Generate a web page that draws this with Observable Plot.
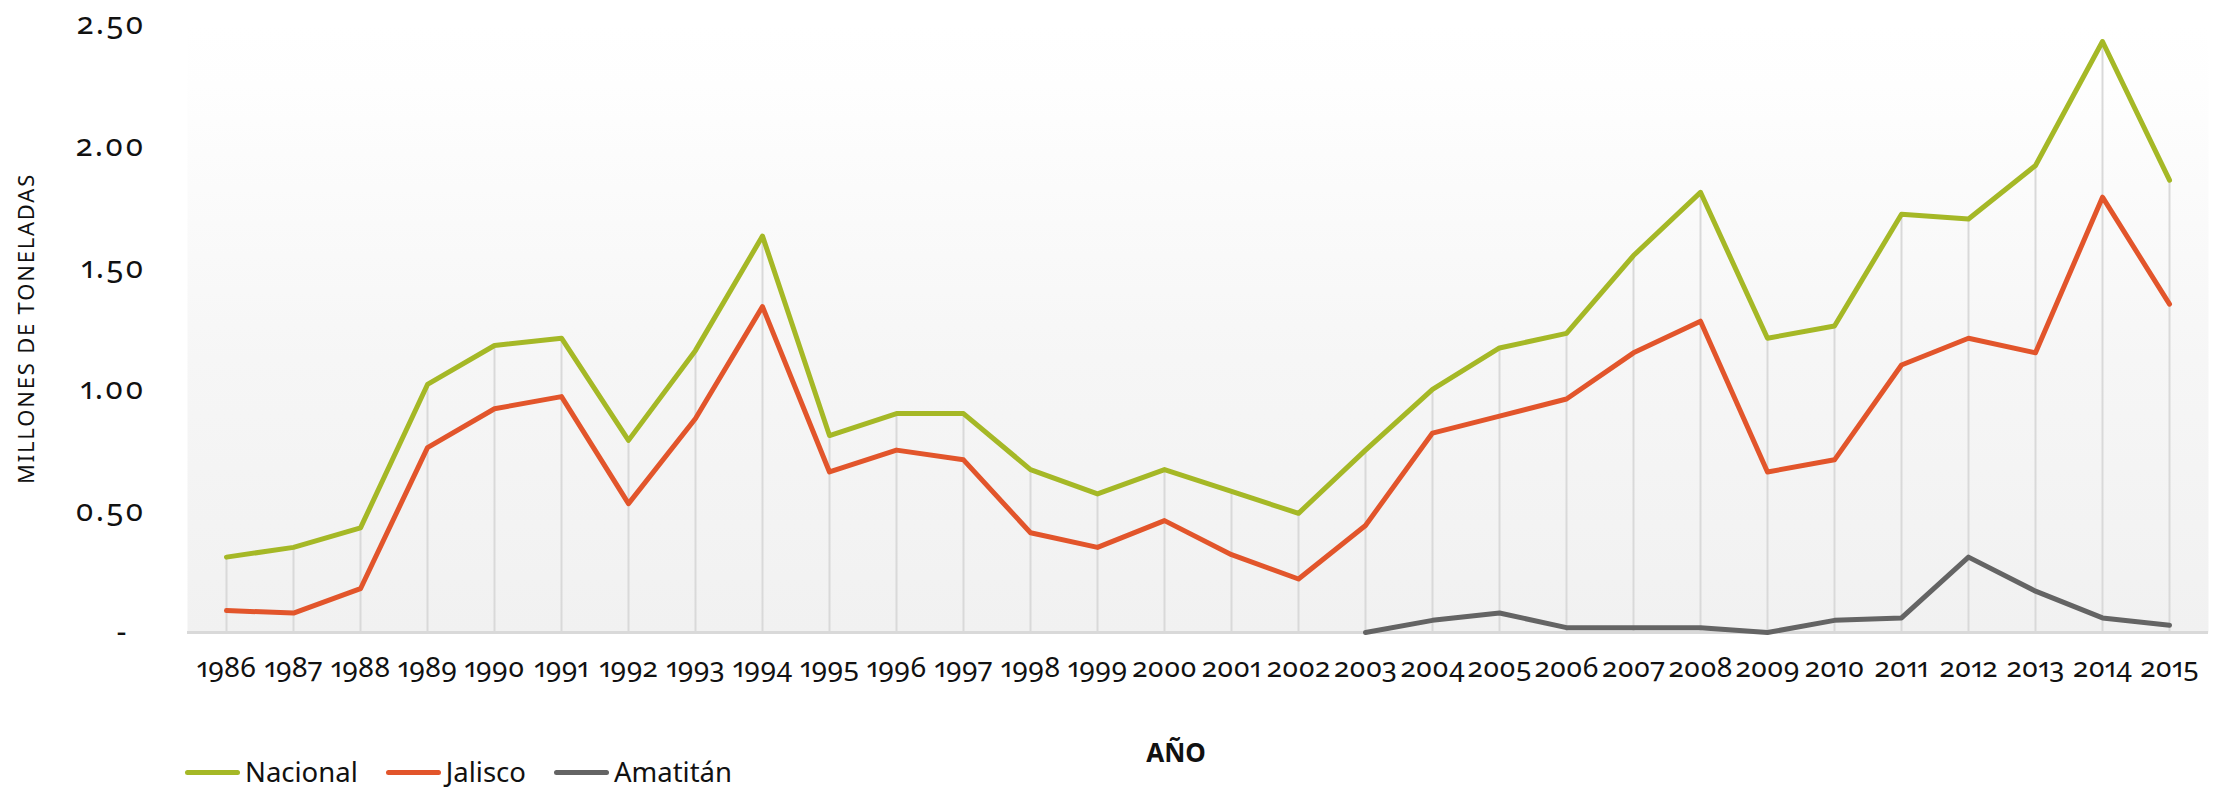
<!DOCTYPE html>
<html>
<head>
<meta charset="utf-8">
<script src="https://cdn.jsdelivr.net/npm/d3@7"></script>
<script src="https://cdn.jsdelivr.net/npm/@observablehq/plot@0.6"></script>
<style>
  html, body { margin: 0; padding: 0; background: #ffffff; }
  #wrap { position: relative; width: 2231px; height: 792px; overflow: hidden; font-family: "Noto Sans", sans-serif; }
  #wrap svg text { font-variant-numeric: oldstyle-nums proportional-nums; font-feature-settings: "onum" 1, "pnum" 1; }
  #legend { position: absolute; left: 185px; top: 755px; height: 34px; line-height: 34px; display: flex; align-items: center; color: #111; font-size: 27.5px; font-family: "Noto Sans", sans-serif; }
  #legend .item { display: flex; align-items: center; margin-right: 28px; height: 34px; }
  #legend .sw { width: 55px; height: 5px; border-radius: 3px; margin-right: 5px; }
</style>
</head>
<body>
<div id="wrap"></div>
<script>
const years = [1986,1987,1988,1989,1990,1991,1992,1993,1994,1995,1996,1997,1998,1999,2000,2001,2002,2003,2004,2005,2006,2007,2008,2009,2010,2011,2012,2013,2014,2015];
const nacional = [0.31,0.35,0.43,1.02,1.18,1.21,0.79,1.16,1.63,0.81,0.90,0.90,0.67,0.57,0.67,0.58,0.49,0.75,1.00,1.17,1.23,1.55,1.81,1.21,1.26,1.72,1.70,1.92,2.43,1.86];
const jalisco  = [0.09,0.08,0.18,0.76,0.92,0.97,0.53,0.88,1.34,0.66,0.75,0.71,0.41,0.35,0.46,0.32,0.22,0.44,0.82,0.89,0.96,1.15,1.28,0.66,0.71,1.10,1.21,1.15,1.79,1.35];
const amatitan = [null,null,null,null,null,null,null,null,null,null,null,null,null,null,null,null,null,0.00,0.05,0.08,0.02,0.02,0.02,0.00,0.05,0.06,0.31,0.17,0.06,0.03];
const seriesNames = ["Nacional","Jalisco","Amatitán"];
const seriesColors = ["#A5B826","#E2552B","#646464"];
const yTicks = [0,0.5,1,1.5,2,2.5];
const yTitle = "MILLONES DE TONELADAS";
const xTitle = "AÑO";

const seriesValues = [nacional, jalisco, amatitan];
const rows = years.map((year, i) => ({year, nacional: nacional[i]}));
const long = [];
seriesNames.forEach((s, k) => years.forEach((year, i) => long.push({year, series: s, value: seriesValues[k][i]})));

const chart = Plot.plot({
  width: 2231,
  height: 792,
  marginLeft: 187,
  marginRight: 23,
  marginTop: 24,
  marginBottom: 160,
  style: {fontFamily: "'Noto Sans', sans-serif", fontSize: "28px", color: "#111", background: "transparent", overflow: "visible"},
  x: {type: "point", domain: years, padding: 0.5, label: null},
  y: {domain: [0, 2.5], label: null},
  color: {domain: seriesNames, range: seriesColors},
  marks: [
    Plot.frame({fill: "url(#bgGrad)", stroke: "none"}),
    Plot.ruleX(rows, {x: "year", y1: 0, y2: "nacional", stroke: "#d9d9d9", strokeWidth: 2}),
    Plot.ruleY([0], {stroke: "#d9d9d9", strokeWidth: 3}),
    Plot.axisX({tickSize: 0, tickPadding: 25, tickFormat: d => String(d), label: null, fontSize: 28}),
    Plot.axisY(yTicks.filter(d => d > 0), {tickSize: 0, tickPadding: 42, tickFormat: d => d.toFixed(2), label: null, fontSize: 31}),
    Plot.axisY([0], {tickSize: 0, tickPadding: 44, tickFormat: () => "-", dx: -17, label: null, fontSize: 31}),
    Plot.line(long, {x: "year", y: "value", z: "series", stroke: "series", strokeWidth: 5, strokeLinejoin: "round", strokeLinecap: "round"}),
    Plot.text([yTitle], {frameAnchor: "left", dx: -161, rotate: -90, textAnchor: "middle", lineAnchor: "middle", fontSize: 22, fill: "#111"}),
    Plot.text([xTitle], {frameAnchor: "bottom", dx: -22, dy: 121, textAnchor: "middle", lineAnchor: "middle", fontSize: 26, fontWeight: "bold", fill: "#111"})
  ]
});

const NS = "http://www.w3.org/2000/svg";
const defs = document.createElementNS(NS, "defs");
const grad = document.createElementNS(NS, "linearGradient");
grad.setAttribute("id", "bgGrad");
grad.setAttribute("x1", "0"); grad.setAttribute("y1", "0");
grad.setAttribute("x2", "0"); grad.setAttribute("y2", "1");
[["0", "#ffffff"], ["0.1", "#fefefe"], ["0.55", "#f6f6f6"], ["1", "#f1f1f1"]].forEach(([o, c]) => {
  const st = document.createElementNS(NS, "stop");
  st.setAttribute("offset", o);
  st.setAttribute("stop-color", c);
  grad.appendChild(st);
});
defs.appendChild(grad);
chart.insertBefore(defs, chart.firstChild);

// letter spacing tweaks (styles only)
chart.querySelectorAll("text").forEach(t => {
  if (t.textContent === yTitle) t.setAttribute("letter-spacing", "1.8");
  if (/^\d\.\d\d$/.test(t.textContent)) t.setAttribute("letter-spacing", "2");
});

const wrap = document.getElementById("wrap");
wrap.appendChild(chart);

const legend = document.createElement("div");
legend.id = "legend";
seriesNames.forEach((s, i) => {
  const item = document.createElement("div");
  item.className = "item";
  const sw = document.createElement("span");
  sw.className = "sw";
  sw.style.background = seriesColors[i];
  const t = document.createElement("span");
  t.textContent = s;
  item.appendChild(sw);
  item.appendChild(t);
  legend.appendChild(item);
});
wrap.appendChild(legend);
</script>
</body>
</html>
